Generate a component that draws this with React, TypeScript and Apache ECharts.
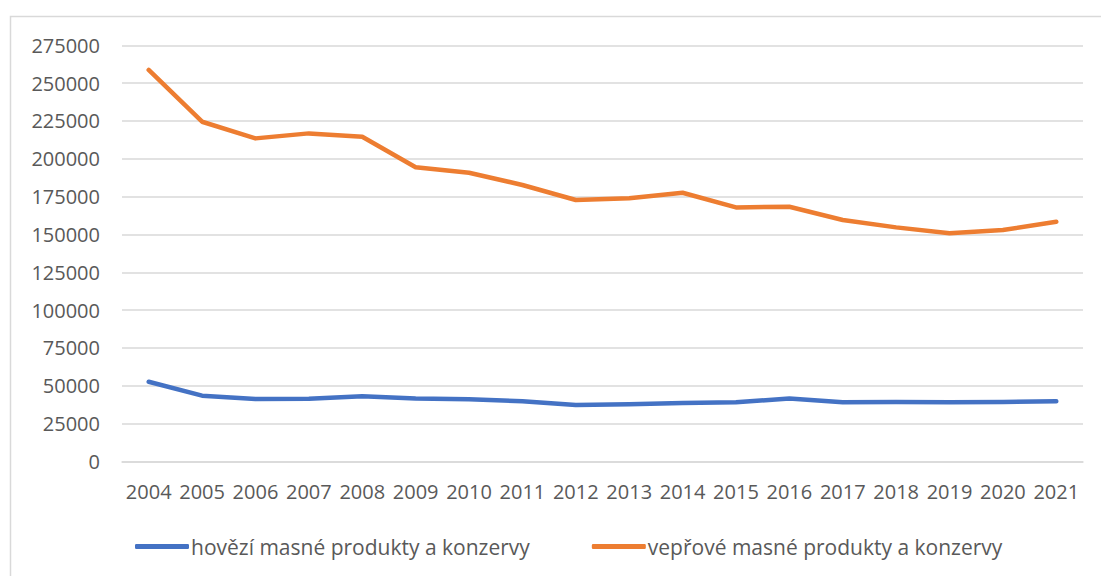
import React, { useEffect, useRef } from "react";
import * as echarts from "echarts";

const years = ["2004","2005","2006","2007","2008","2009","2010","2011","2012","2013","2014","2015","2016","2017","2018","2019","2020","2021"];
const beef = [52700,43500,41300,41500,43100,41700,41100,39800,37300,37800,38600,39100,41700,39100,39300,39100,39300,39800];
const pork = [258700,224500,213500,216800,214600,194400,190800,182700,172800,173900,177600,167900,168300,159600,154700,150800,152900,158400];
const beefName = "hovězí masné produkty a konzervy";
const porkName = "vepřové masné produkty a konzervy";

export default function App() {
  const ref = useRef<HTMLDivElement>(null);
  useEffect(() => {
    document.body.style.margin = "0";
    const chart = echarts.init(ref.current!, null, { renderer: "svg" });
    const font = "'Open Sans', 'Liberation Sans', sans-serif";
    chart.setOption({
      animation: false,
      backgroundColor: "#ffffff",
      textStyle: { fontFamily: font },
      graphic: [
        {
          type: "rect",
          shape: { x: 10.5, y: 16.5, width: 1200, height: 700 },
          style: { fill: "none", stroke: "#d9d9d9", lineWidth: 1.5 },
          silent: true,
        },
      ],
      grid: { left: 122, right: 18, top: 45.3, bottom: 114.5, containLabel: false },
      legend: {
        top: 531,
        left: 130,
        icon: "roundRect",
        itemWidth: 54,
        itemHeight: 5,
        itemGap: 62,
        textStyle: { color: "#595959", fontSize: 21, fontFamily: font, padding: [0, 0, 0, -3] },
        data: [beefName, porkName],
      },
      xAxis: {
        type: "category",
        data: years,
        boundaryGap: true,
        axisLine: { show: true, lineStyle: { color: "#d9d9d9", width: 1.5 } },
        axisTick: { show: false },
        axisLabel: { color: "#595959", fontSize: 20, margin: 20, fontFamily: font, interval: 0 },
      },
      yAxis: {
        type: "value",
        min: 0,
        max: 275000,
        interval: 25000,
        axisLine: { show: false },
        axisTick: { show: false },
        splitLine: { lineStyle: { color: "#d9d9d9", width: 1.5 } },
        axisLabel: {
          color: "#595959",
          fontSize: 20,
          margin: 22,
          fontFamily: font,
          formatter: (v: number) => String(v),
        },
      },
      series: [
        {
          name: beefName,
          type: "line",
          data: beef,
          showSymbol: false,
          symbol: "none",
          lineStyle: { color: "#4472C4", width: 4.5, cap: "round", join: "round" },
          itemStyle: { color: "#4472C4" },
        },
        {
          name: porkName,
          type: "line",
          data: pork,
          showSymbol: false,
          symbol: "none",
          lineStyle: { color: "#ED7D31", width: 4.5, cap: "round", join: "round" },
          itemStyle: { color: "#ED7D31" },
        },
      ],
    });
    return () => chart.dispose();
  }, []);
  return (
    <div
      ref={ref}
      style={{ position: "absolute", left: 0, top: 0, width: 1101, height: 576 }}
    />
  );
}
